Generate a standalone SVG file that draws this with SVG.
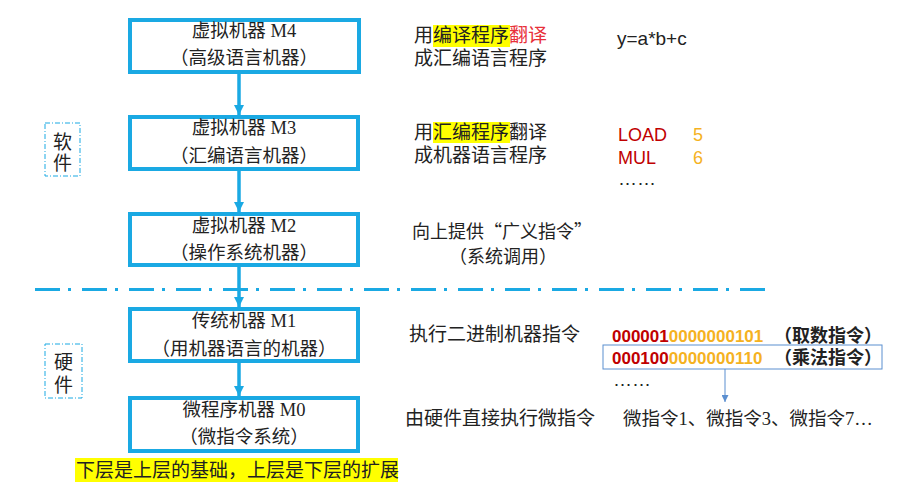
<svg xmlns="http://www.w3.org/2000/svg" width="897" height="498" viewBox="0 0 897 498">
<defs>
<style>
.box{fill:#fff;stroke:#1aa9e3;stroke-width:4}
.bt{font-family:"Liberation Serif","Noto Sans CJK SC",serif;font-size:18.5px;fill:#222;text-anchor:middle}
.mt{font-family:"Liberation Serif","Noto Sans CJK SC",serif;font-size:18.5px;fill:#222}
.rt{font-family:"Liberation Sans","Noto Sans CJK SC",sans-serif;font-size:19px;fill:#222}
.st{font-family:"Noto Sans CJK SC",sans-serif;font-size:18px;fill:#222}
.en{font-family:"Liberation Sans","Noto Sans CJK SC",sans-serif;font-size:18px}
.bin{font-family:"Liberation Sans","Noto Sans CJK SC",sans-serif;font-size:17px;font-weight:bold}
.brk{font-family:"Noto Sans CJK SC",sans-serif;font-size:18px;font-weight:bold;fill:#222}
.red{fill:#c00000}
.org{fill:#f5b21f}
.lbl{fill:#fff;stroke:#1aa9e3;stroke-width:1;stroke-dasharray:5,2,1,2}
.conn{stroke:#1aa9e3;stroke-width:3.5;fill:none}
.hl{fill:#ffff00}
</style>
<marker id="ah" viewBox="0 0 10 10" refX="10" refY="5" markerWidth="3" markerHeight="3" orient="auto" markerUnits="strokeWidth">
<path d="M0,0 L10,5 L0,10 Z" fill="#1aa9e3"/>
</marker>
<marker id="ah2" viewBox="0 0 10 10" refX="10" refY="5" markerWidth="7" markerHeight="7" orient="auto" markerUnits="strokeWidth">
<path d="M0,0 L10,5 L0,10 Z" fill="#5b8fd0"/>
</marker>
</defs>
<rect width="897" height="498" fill="#fff"/>

<g id="connectors">
<line class="conn" x1="239" y1="72" x2="239" y2="115" marker-end="url(#ah)"/>
<line class="conn" x1="239" y1="169" x2="239" y2="212" marker-end="url(#ah)"/>
<line class="conn" x1="239" y1="265" x2="239" y2="307" marker-end="url(#ah)"/>
<line class="conn" x1="239" y1="361" x2="239" y2="396" marker-end="url(#ah)"/>
<line x1="725" y1="369" x2="725" y2="402" stroke="#5b8fd0" stroke-width="1" marker-end="url(#ah2)"/>
</g>

<g id="divider">
<line x1="35" y1="289.5" x2="770" y2="289.5" stroke="#1aa9e3" stroke-width="3" stroke-dasharray="25,8,3,11"/>
</g>

<g id="m4">
<rect class="box" x="130" y="20" width="229" height="52"/>
<text class="bt" x="244" y="37">虚拟机器 M4</text>
<text class="bt" x="244" y="64">（高级语言机器）</text>
</g>
<g id="m3">
<rect class="box" x="130" y="117" width="228" height="52"/>
<text class="bt" x="244" y="134">虚拟机器 M3</text>
<text class="bt" x="244" y="162">（汇编语言机器）</text>
</g>
<g id="m2">
<rect class="box" x="130" y="214" width="228" height="51"/>
<text class="bt" x="244" y="232">虚拟机器 M2</text>
<text class="bt" x="244" y="259">（操作系统机器）</text>
</g>
<g id="m1">
<rect class="box" x="130" y="309" width="228" height="52"/>
<text class="bt" x="244" y="327">传统机器 M1</text>
<text class="bt" x="244" y="355">（用机器语言的机器）</text>
</g>
<g id="m0">
<rect class="box" x="130" y="398" width="228" height="53"/>
<text class="bt" x="244" y="416">微程序机器 M0</text>
<text class="bt" x="244" y="443">（微指令系统）</text>
</g>

<g id="software">
<rect class="lbl" x="45" y="123" width="35" height="53"/>
<text class="rt" x="62.5" y="149" text-anchor="middle">软</text>
<text class="rt" x="62.5" y="170" text-anchor="middle">件</text>
</g>
<g id="hardware">
<rect class="lbl" x="45" y="344" width="37" height="54"/>
<text class="rt" x="63.5" y="369" text-anchor="middle">硬</text>
<text class="rt" x="63.5" y="392" text-anchor="middle">件</text>
</g>

<g id="row-m4">
<rect class="hl" x="433" y="25" width="77" height="22"/>
<text class="rt" x="414" y="42">用编译程序<tspan fill="#e8303a">翻译</tspan></text>
<text class="rt" x="414" y="65">成汇编语言程序</text>
<text class="en" x="617" y="45" fill="#222" style="font-size:19px">y=a*b+c</text>
</g>
<g id="row-m3">
<rect class="hl" x="433" y="122" width="77" height="21"/>
<text class="rt" x="414" y="139">用汇编程序翻译</text>
<text class="rt" x="414" y="162">成机器语言程序</text>
<text class="en red" x="618" y="141">LOAD</text>
<text class="en org" x="693" y="141">5</text>
<text class="en red" x="618" y="164">MUL</text>
<text class="en org" x="693" y="164">6</text>
<text class="rt" x="618" y="185">……</text>
</g>
<g id="row-m2">
<text class="st" x="412" y="238">向上提供“广义指令”</text>
<text class="st" x="449" y="263">（系统调用）</text>
</g>
<g id="row-m1">
<text class="rt" x="409" y="341">执行二进制机器指令</text>
<text class="bin" x="612" y="342"><tspan class="red">000001</tspan><tspan class="org">0000000101</tspan></text>
<text class="brk" x="774" y="342">（取数指令）</text>
<rect x="603" y="345" width="279" height="24" fill="none" stroke="#5b8fd0" stroke-width="1"/>
<text class="bin" x="612" y="364"><tspan class="red">000100</tspan><tspan class="org">0000000110</tspan></text>
<text class="brk" x="774" y="364">（乘法指令）</text>
<text class="rt" x="613" y="386">……</text>
</g>
<g id="row-m0">
<text class="rt" x="405" y="425">由硬件直接执行微指令</text>
<text class="mt" x="623" y="425">微指令1、微指令3、微指令7…</text>
</g>
<g id="banner">
<rect class="hl" x="75" y="458" width="323" height="24"/>
<text class="rt" x="76" y="477">下层是上层的基础，上层是下层的扩展</text>
</g>
</svg>
